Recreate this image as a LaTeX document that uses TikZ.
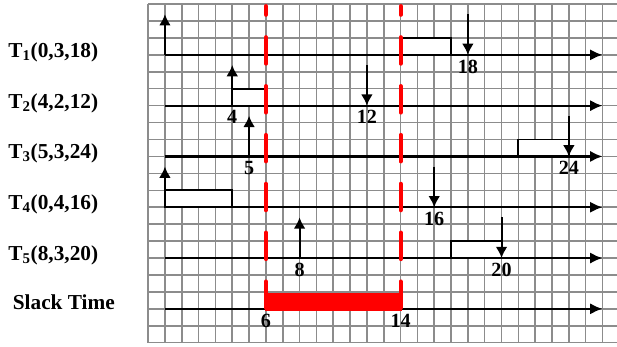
\documentclass[tikz,border=0pt]{standalone}
\usepackage{fontspec}
\setmainfont{Liberation Serif}
\usepackage{xcolor}
\usetikzlibrary{arrows.meta}
\definecolor{gridgray}{RGB}{140,140,140}
\definecolor{slackred}{RGB}{255,0,0}

\begin{document}
\begin{tikzpicture}[x=0.5cm,y=0.503cm,
    gridline/.style={gridgray,line width=1.3pt},
    axis/.style={line width=1.8pt,-{Latex[length=10.5pt,width=9.5pt]}},
    event/.style={line width=1.7pt,-{Latex[length=9.5pt,width=10pt]}},
    jobbox/.style={line width=1.6pt,fill=white},
    tick/.style={below=4pt,inner sep=0pt,font=\fontsize{17}{17}\selectfont\bfseries},
    task/.style={anchor=base west,inner sep=0pt,font=\fontsize{18}{18}\selectfont\bfseries},
    slackline/.style={slackred,line width=3.4pt,line cap=round,dash pattern=on 22.4pt off 18.9pt}]
    \clip (-9.8,-0.25) rectangle (26.86,20.24);

    % Grid
    \foreach \x in {-1,...,27} {
        \draw[gridline] (\x,0) -- (\x,20);
    }
    \foreach \y in {0,...,20} {
        \draw[gridline] (-1,\y) -- (27,\y);
    }

    % Task names
    \node[task] (t1) at (-9.31,16.86) {T\textsubscript{1}(0,3,18)};
    \node[task] (t2) at (-9.31,13.86) {T\textsubscript{2}(4,2,12)};
    \node[task] (t3) at (-9.31,10.86) {T\textsubscript{3}(5,3,24)};
    \node[task] (t4) at (-9.31,7.86) {T\textsubscript{4}(0,4,16)};
    \node[task] (t5) at (-9.31,4.86) {T\textsubscript{5}(8,3,20)};
    \node[task] (slack) at (-9.05,1.98) {Slack Time};

    % Executed jobs
    \draw[jobbox] (14,17) rectangle (17,18);
    \draw[jobbox] (4,14) rectangle (6,15);
    \draw[jobbox] (21,11) rectangle (24,12);
    \draw[jobbox] (0,8) rectangle (4,9);
    \draw[jobbox] (17,5) rectangle (20,6);

    % Time axes
    \foreach \y in {17,14,11,8,5,2} {
        \draw[axis] (0,\y) -- (26,\y);
    }

    % Releases and deadlines
    \foreach \t/\y in {0/17, 4/14, 5/11, 0/8, 8/5} {
        \draw[event] (\t,\y) -- (\t,\y+2.4);
    }
    \foreach \t/\y in {18/17, 12/14, 24/11, 16/8, 20/5} {
        \draw[event] (\t,\y+2.4) -- (\t,\y);
    }

    % Slack interval
    \fill[slackred] (5.94,1.9) rectangle (14.06,2.95);
    \draw[slackline] (6,2.05) -- (6,19.88);
    \draw[slackline] (14,2.05) -- (14,19.88);

    % Time labels
    \node[tick] (d1) at (18,17) {18};
    \node[tick] (r2) at (4,14) {4};
    \node[tick] (d2) at (12,14) {12};
    \node[tick] (r3) at (5,11) {5};
    \node[tick] (d3) at (24,11) {24};
    \node[tick] (d4) at (16,8) {16};
    \node[tick] (r5) at (8,5) {8};
    \node[tick] (d5) at (20,5) {20};
    \node[tick] (s0) at (6,2) {6};
    \node[tick] (s1) at (14,2) {14};
\end{tikzpicture}
\end{document}
